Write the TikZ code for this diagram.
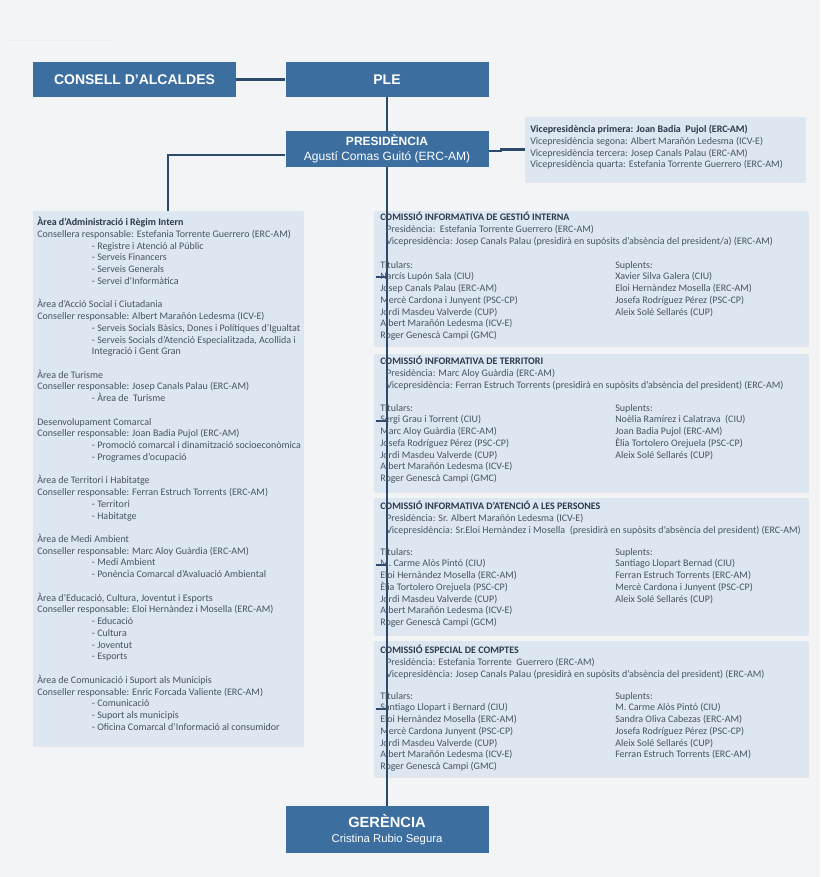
\documentclass[tikz,border=0pt]{standalone}
\usepackage{fontspec}
\setmainfont{Carlito}
\setsansfont{Liberation Sans}
\usetikzlibrary{positioning,shadows}
\definecolor{boxblue}{RGB}{60,111,160}
\definecolor{lineblue}{RGB}{44,74,108}
\definecolor{paleblue}{RGB}{220,231,242}
\definecolor{pagegray}{RGB}{243,244,246}
\definecolor{textgray}{RGB}{72,84,98}
\definecolor{headgray}{RGB}{44,58,76}
\newcommand{\body}{\fontsize{7.5}{8.8}\selectfont}
\newcommand{\ind}{\hspace*{41pt}}
\newcommand{\pind}{\hspace*{4.5pt}}
\begin{document}
\begin{tikzpicture}[x=0.75pt,y=-0.75pt,
  darkbox/.style={fill=boxblue, text=white, font=\sffamily, align=center, inner sep=0pt},
  lightbox/.style={fill=paleblue, drop shadow={opacity=0.12, shadow xshift=1pt, shadow yshift=-1pt}},
  link/.style={draw=lineblue, line width=1.6pt},
  txt/.style={anchor=north west, align=left, inner sep=0pt, font=\body, text=textgray}]
\fill[pagegray] (0,0) rectangle (820,877);
\useasboundingbox (0,0) rectangle (820,877);
\draw[gray!15] (10,40) -- (110,40);

% top boxes
\node (consell) [darkbox, minimum width=152.25pt, minimum height=26.25pt] at (134.5,79.5) {\fontsize{10.5}{12}\bfseries CONSELL D’ALCALDES};
\node (ple) [darkbox, minimum width=152.25pt, minimum height=26.25pt] at (387,79.5) {\fontsize{10.5}{12}\bfseries PLE};
\node (pres) [darkbox, minimum width=152.25pt, minimum height=27pt] at (387,149) {\fontsize{9}{11}\selectfont\bfseries PRESIDÈNCIA\\[-1pt]\fontsize{9}{11}\selectfont Agustí Comas Guitó (ERC-AM)};
\node (ger) [darkbox, minimum width=152.25pt, minimum height=35.25pt] at (387,829.5) {\fontsize{11}{13}\selectfont\bfseries GERÈNCIA\\[-1pt]\fontsize{8.5}{10}\selectfont Cristina Rubio Segura};

% pale boxes
\node (vice) [lightbox, minimum width=210pt, minimum height=48.75pt] at (665,149.5) {};
\node (arees) [lightbox, minimum width=202.5pt, minimum height=401.25pt] at (168,478.5) {};
\node (gestio) [lightbox, minimum width=325.5pt, minimum height=101.25pt] at (591,278.5) {};
\node (territori) [lightbox, minimum width=325.5pt, minimum height=103.5pt] at (591,423) {};
\node (persones) [lightbox, minimum width=325.5pt, minimum height=102.75pt] at (591,566.5) {};
\node (comptes) [lightbox, minimum width=325.5pt, minimum height=102pt] at (591,709) {};

% connectors
\draw[link] (consell) -- (ple);
\draw[link] (ple) -- (pres);
\draw[link] (pres) -- (ger);
\draw[link] ([yshift=-4.5pt]pres.west) -| (arees.north);
\draw[link] ([yshift=-1.5pt]pres.east) -- ++(12,0) |- (vice.west);
\foreach \c/\y in {gestio/277,territori/421,persones/565,comptes/709}{
  \coordinate (\c-in) at (376,\y);
  \draw[link] (pres.south |- \c-in) -- (\c-in);
}

% texts
\node (vicetxt) [txt] at (530,125) {\textbf{\color{headgray}Vicepresidència primera: Joan Badia\ \ Pujol (ERC-AM)}\\
Vicepresidència segona: Albert Marañón Ledesma (ICV-E)\\
Vicepresidència tercera: Josep Canals Palau (ERC-AM)\\
Vicepresidència quarta: Estefania Torrente Guerrero (ERC-AM)};

\node (areestxt) [txt] at (37,217) {\textbf{\color{headgray}Àrea d’Administració i Règim Intern}\\
Consellera responsable: Estefania Torrente Guerrero (ERC-AM)\\
\ind - Registre i Atenció al Públic\\
\ind - Serveis Financers\\
\ind - Serveis Generals\\
\ind - Servei d’Informàtica\\
\mbox{}\\
Àrea d’Acció Social i Ciutadania\\
Conseller responsable: Albert Marañón Ledesma (ICV-E)\\
\ind - Serveis Socials Bàsics, Dones i Polítiques d’Igualtat\\
\ind - Serveis Socials d’Atenció Especialitzada, Acollida i\\
\ind Integració i Gent Gran\\
\mbox{}\\
Àrea de Turisme\\
Conseller responsable: Josep Canals Palau (ERC-AM)\\
\ind - Àrea de\ \ Turisme\\
\mbox{}\\
Desenvolupament Comarcal\\
Conseller responsable: Joan Badia Pujol (ERC-AM)\\
\ind - Promoció comarcal i dinamització socioeconòmica\\
\ind - Programes d’ocupació\\
\mbox{}\\
Àrea de Territori i Habitatge\\
Conseller responsable: Ferran Estruch Torrents (ERC-AM)\\
\ind - Territori\\
\ind - Habitatge\\
\mbox{}\\
Àrea de Medi Ambient\\
Conseller responsable: Marc Aloy Guàrdia (ERC-AM)\\
\ind - Medi Ambient\\
\ind - Ponència Comarcal d’Avaluació Ambiental\\
\mbox{}\\
Àrea d’Educació, Cultura, Joventut i Esports\\
Conseller responsable: Eloi Hernàndez i Mosella (ERC-AM)\\
\ind - Educació\\
\ind - Cultura\\
\ind - Joventut\\
\ind - Esports\\
\mbox{}\\
Àrea de Comunicació i Suport als Municipis\\
Conseller responsable: Enric Forcada Valiente (ERC-AM)\\
\ind - Comunicació\\
\ind - Suport als municipis\\
\ind - Oficina Comarcal d’Informació al consumidor};

% comissions
\node (gestiohead) [txt] at (380,212) {\textbf{\color{headgray}COMISSIÓ INFORMATIVA DE GESTIÓ INTERNA}\\
\pind Presidència:\ \ Estefania Torrente Guerrero (ERC-AM)\\
\pind Vicepresidència: Josep Canals Palau (presidirà en supòsits d’absència del president/a) (ERC-AM)};
\node (gestiotit) [txt] at (380,261) {Titulars:\\ Narcís Lupón Sala (CIU)\\ Josep Canals Palau (ERC-AM)\\ Mercè Cardona i Junyent (PSC-CP)\\ Jordi Masdeu Valverde (CUP)\\ Albert Marañón Ledesma (ICV-E)\\ Roger Genescà Campi (GMC)};
\node (gestiosup) [txt] at (615,261) {Suplents:\\ Xavier Silva Galera (CIU)\\ Eloi Hernàndez Mosella (ERC-AM)\\ Josefa Rodríguez Pérez (PSC-CP)\\ Aleix Solé Sellarés (CUP)};

\node (territorihead) [txt] at (380,356) {\textbf{\color{headgray}COMISSIÓ INFORMATIVA DE TERRITORI}\\
\pind Presidència: Marc Aloy Guàrdia (ERC-AM)\\
\pind Vicepresidència: Ferran Estruch Torrents (presidirà en supòsits d’absència del president) (ERC-AM)};
\node (territoritit) [txt] at (380,404) {Titulars:\\ Sergi Grau i Torrent (CIU)\\ Marc Aloy Guàrdia (ERC-AM)\\ Josefa Rodríguez Pérez (PSC-CP)\\ Jordi Masdeu Valverde (CUP)\\ Albert Marañón Ledesma (ICV-E)\\ Roger Genescà Campi (GMC)};
\node (territorisup) [txt] at (615,404) {Suplents:\\ Noèlia Ramírez i Calatrava\ \ (CIU)\\ Joan Badia Pujol (ERC-AM)\\ Èlia Tortolero Orejuela (PSC-CP)\\ Aleix Solé Sellarés (CUP)};

\node (personeshead) [txt] at (380,501) {\textbf{\color{headgray}COMISSIÓ INFORMATIVA D’ATENCIÓ A LES PERSONES}\\
\pind Presidència: Sr. Albert Marañón Ledesma (ICV-E)\\
\pind Vicepresidència: Sr.Eloi Hernàndez i Mosella\ \ (presidirà en supòsits d’absència del president) (ERC-AM)};
\node (personestit) [txt] at (380,548) {Titulars:\\ M. Carme Alòs Pintó (CIU)\\ Eloi Hernàndez Mosella (ERC-AM)\\ Èlia Tortolero Orejuela (PSC-CP)\\ Jordi Masdeu Valverde (CUP)\\ Albert Marañón Ledesma (ICV-E)\\ Roger Genescà Campi (GCM)};
\node (personessup) [txt] at (615,548) {Suplents:\\ Santiago Llopart Bernad (CIU)\\ Ferran Estruch Torrents (ERC-AM)\\ Mercè Cardona i Junyent (PSC-CP)\\ Aleix Solé Sellarés (CUP)};

\node (comptesheads) [txt] at (380,645) {\textbf{\color{headgray}COMISSIÓ ESPECIAL DE COMPTES}\\
\pind Presidència: Estefania Torrente\ \ Guerrero (ERC-AM)\\
\pind Vicepresidència: Josep Canals Palau (presidirà en supòsits d’absència del president) (ERC-AM)};
\node (comptestit) [txt] at (380,692) {Titulars:\\ Santiago Llopart i Bernard (CIU)\\ Eloi Hernàndez Mosella (ERC-AM)\\ Mercè Cardona Junyent (PSC-CP)\\ Jordi Masdeu Valverde (CUP)\\ Albert Marañón Ledesma (ICV-E)\\ Roger Genescà Campi (GMC)};
\node (comptessup) [txt] at (615,692) {Suplents:\\ M. Carme Alòs Pintó (CIU)\\ Sandra Oliva Cabezas (ERC-AM)\\ Josefa Rodríguez Pérez (PSC-CP)\\ Aleix Solé Sellarés (CUP)\\ Ferran Estruch Torrents (ERC-AM)};
\end{tikzpicture}
\end{document}
